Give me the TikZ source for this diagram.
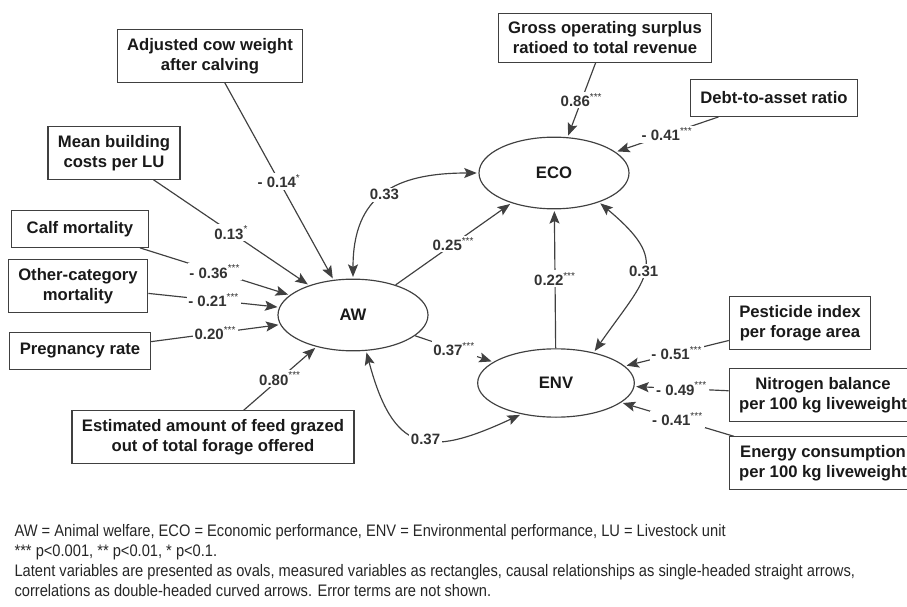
\documentclass[tikz,border=0pt]{standalone}
\usepackage{fontspec}
\setmainfont{Liberation Sans}
\newfontfamily\notefont[FakeStretch=0.88]{Liberation Sans}
\usepackage{tikz}
\usetikzlibrary{shapes,arrows,arrows.meta}
\newcommand{\sig}[1]{\textsuperscript{\mdseries #1}}

\begin{document}
\begin{tikzpicture}[->,>={Stealth[length=7.5pt,width=6pt,inset=1.5pt]},shorten >=1pt,x=0.6pt,y=-0.6pt,line width=0.7pt,
  every edge/.style={draw=black!75}]
\tikzstyle{var}=[draw=black!75,rectangle,align=center,font=\bfseries,text=black!90,inner xsep=6pt,inner ysep=5pt,minimum height=22pt]
\tikzstyle{latent}=[draw=black!75,ellipse,font=\bfseries,text=black!90,minimum width=90pt,minimum height=43pt,inner sep=0pt]
\tikzstyle{coef}=[fill=white,font=\bfseries\fontsize{9}{10}\selectfont,text=black!80,inner sep=1pt]
\useasboundingbox (0,0) rectangle (907,607);

% latent variables
\node[latent] (AW) at (353,315) {AW};
\node[latent] (ECO) at (554,173) {ECO};
\node[latent,minimum width=94pt,minimum height=41pt] (ENV) at (556,383) {ENV};

% measured variables
\node[var] (cow) at (210,56) {Adjusted cow weight\\after calving};
\node[var] (build) at (114,153) {Mean building\\costs per LU};
\node[var,minimum width=82pt] (calf) at (80,229) {Calf mortality};
\node[var,minimum width=82pt] (other) at (78,286) {Other-category\\mortality};
\node[var,minimum width=82pt] (preg) at (80,351) {Pregnancy rate};
\node[var] (feed) at (213,437) {Estimated amount of feed grazed\\out of total forage offered};
\node[var] (gos) at (605,38) {Gross operating surplus\\ratioed to total revenue};
\node[var] (debt) at (774,98) {Debt-to-asset ratio};
\node[var] (pest) at (800,323) {Pesticide index\\per forage area};
\node[var] (nitro) at (823,395) {Nitrogen balance\\per 100 kg liveweight};
\node[var] (energy) at (823,463) {Energy consumption\\per 100 kg liveweight};

% causal paths
\path (cow) edge node[coef]{- 0.14\sig{*}} (AW)
      (build) edge node[coef]{0.13\sig{*}} (AW)
      (calf) edge node[coef]{- 0.36\sig{***}} (AW)
      (other) edge node[coef]{- 0.21\sig{***}} (AW)
      (preg) edge node[coef]{0.20\sig{***}} (AW)
      (feed) edge node[coef]{0.80\sig{***}} (AW)
      (gos) edge node[coef]{0.86\sig{***}} (ECO)
      (debt) edge node[coef]{- 0.41\sig{***}} (ECO)
      (AW) edge node[coef]{0.25\sig{***}} (ECO)
      (AW) edge node[coef]{0.37\sig{***}} (ENV)
      (ENV) edge node[coef]{0.22\sig{***}} (ECO)
      (pest) edge node[coef]{- 0.51\sig{***}} (ENV)
      (nitro) edge node[coef]{- 0.49\sig{***}} (ENV)
      (energy) edge node[coef]{- 0.41\sig{***}} (ENV);

% correlations
\draw[<->,shorten <=1pt,draw=black!75] (AW.north) to[out=90,in=180,looseness=1.3] node[coef]{0.33} (ECO.west);
\draw[<->,shorten <=1pt,draw=black!75] (ECO.-33) to[out=-40,in=55,looseness=1.6] node[coef]{0.31} (ENV.39);
\draw[<->,shorten <=1pt,draw=black!75] (AW.-70) to[out=-75,in=-155,looseness=1.6] node[coef,pos=0.55]{0.37} (ENV.-138);

\node[anchor=north west,align=left,inner sep=0pt,text=black!85,font=\notefont\fontsize{10}{12}\selectfont] (note) at (14,524)
  {AW = Animal welfare, ECO = Economic performance, ENV = Environmental performance, LU = Livestock unit\\
   *** p<0.001, ** p<0.01, * p<0.1.\\
   Latent variables are presented as ovals, measured variables as rectangles, causal relationships as single-headed straight arrows,\\
   correlations as double-headed curved arrows. Error terms are not shown.};
\end{tikzpicture}
\end{document}
